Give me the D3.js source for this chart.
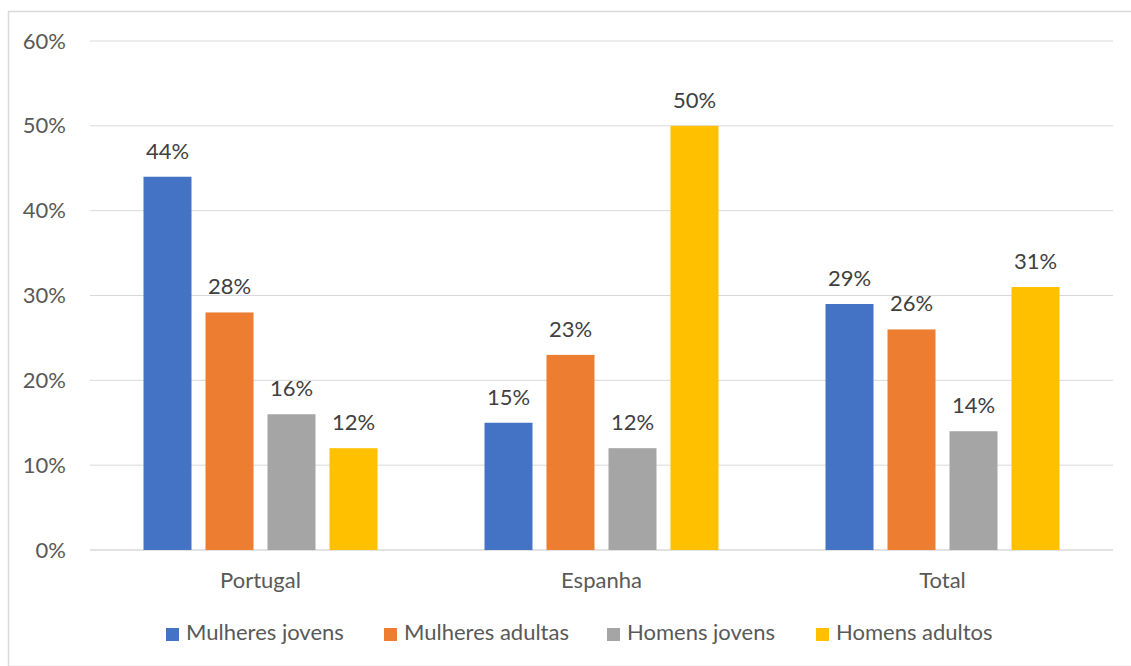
<!DOCTYPE html>
<html>
<head>
<meta charset="utf-8">
<script src="https://cdn.jsdelivr.net/npm/d3@7"></script>
<style>
  html, body { margin: 0; padding: 0; background: #fff; }
  svg { display: block; }
  text { font-family: Lato, "Open Sans", sans-serif; }
</style>
</head>
<body>
<svg id="chart" width="1131" height="666"></svg>
<script>
const categories = ["Portugal", "Espanha", "Total"];
const seriesNames = ["Mulheres jovens", "Mulheres adultas", "Homens jovens", "Homens adultos"];
const seriesColors = ["#4472C4", "#ED7D31", "#A5A5A5", "#FFC000"];
const mulheresJovens = [0.44, 0.15, 0.29];
const mulheresAdultas = [0.28, 0.23, 0.26];
const homensJovens = [0.16, 0.12, 0.14];
const homensAdultos = [0.12, 0.50, 0.31];
const yTicks = [0, 0.1, 0.2, 0.3, 0.4, 0.5, 0.6];

const seriesValues = [mulheresJovens, mulheresAdultas, homensJovens, homensAdultos];

const svg = d3.select("#chart");
const W = 1131, H = 666;
const FS = "22px";

// outer frame
svg.append("rect")
  .attr("x", 8.5).attr("y", 11.5)
  .attr("width", W + 10).attr("height", H - 11)
  .attr("fill", "#fff").attr("stroke", "#D9D9D9").attr("stroke-width", 1.5);

const plot = { left: 90, right: 1113, top: 41, bottom: 550 };

const x0 = d3.scaleBand().domain(categories).range([plot.left, plot.right]).paddingInner(0).paddingOuter(0);
const groupWidth = 234;
const x1 = d3.scaleBand().domain(seriesNames)
  .range([0, groupWidth]).paddingInner(14 / 62).paddingOuter(0);
const y = d3.scaleLinear().domain([0, 0.6]).range([plot.bottom, plot.top]);

// gridlines
svg.append("g").selectAll("line").data(yTicks).join("line")
  .attr("x1", plot.left).attr("x2", plot.right)
  .attr("y1", d => y(d)).attr("y2", d => y(d))
  .attr("stroke", "#D9D9D9")
  .attr("stroke-width", d => d === 0 ? 1.5 : 1);

// y axis labels
const yAxis = d3.axisLeft(y).tickValues(yTicks).tickFormat(d3.format(".0%")).tickSize(0).tickPadding(0);
const gy = svg.append("g").attr("transform", `translate(66,0)`).call(yAxis);
gy.select(".domain").remove();
gy.selectAll("text").attr("fill", "#595959").style("font-size", FS).style("font-family", "Lato, 'Open Sans', sans-serif");

// bars
const groups = svg.append("g").selectAll("g").data(categories).join("g")
  .attr("transform", d => `translate(${x0(d) + (x0.bandwidth() - groupWidth) / 2},0)`);

groups.each(function(cat, ci) {
  const g = d3.select(this);
  const data = seriesNames.map((s, si) => ({ s, si, v: seriesValues[si][ci] }));
  g.selectAll("rect").data(data).join("rect")
    .attr("x", d => x1(d.s)).attr("width", x1.bandwidth())
    .attr("y", d => y(d.v)).attr("height", d => y(0) - y(d.v))
    .attr("fill", d => seriesColors[d.si]);
  g.selectAll("text.lbl").data(data).join("text").attr("class", "lbl")
    .attr("x", d => x1(d.s) + x1.bandwidth() / 2)
    .attr("y", d => y(d.v) - 18)
    .attr("text-anchor", "middle")
    .attr("fill", "#404040").style("font-size", FS)
    .text(d => d3.format(".0%")(d.v));
});

// category axis labels
const xAxis = d3.axisBottom(x0).tickSize(0).tickPadding(0);
const gx = svg.append("g").attr("transform", `translate(0,${plot.bottom + 38})`).call(xAxis);
gx.select(".domain").remove();
gx.selectAll("text").attr("fill", "#595959").style("font-size", FS).style("font-family", "Lato, 'Open Sans', sans-serif").attr("dy", 0);

// legend
const legendX = [166, 384, 607, 816];
const legend = svg.append("g").selectAll("g").data(seriesNames).join("g")
  .attr("transform", (d, i) => `translate(${legendX[i]},640)`);
legend.append("rect").attr("x", 0).attr("y", -12).attr("width", 13).attr("height", 13)
  .attr("fill", (d, i) => seriesColors[i]);
legend.append("text").attr("x", 20).attr("y", 0)
  .attr("fill", "#595959").style("font-size", FS).text(d => d);
</script>
</body>
</html>
